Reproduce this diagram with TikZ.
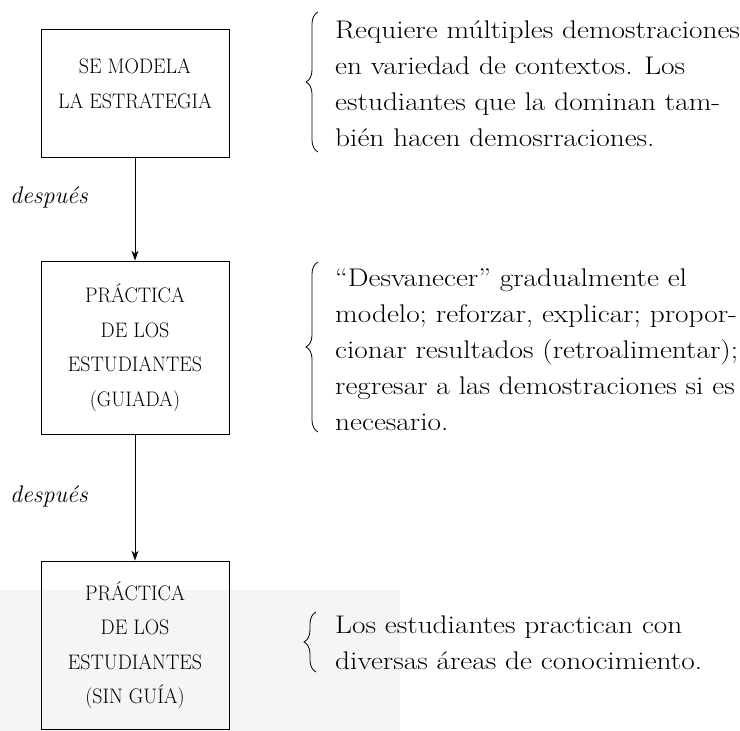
\documentclass[tikz,border=0pt]{standalone}
\usepackage{fontspec}
\newfontfamily\notefont[FakeStretch=1.15]{Latin Modern Roman}
\newfontfamily\boxfont[FakeStretch=0.95]{Latin Modern Roman}
\usetikzlibrary{arrows.meta,decorations.pathreplacing}
\tikzset{
  stepbox/.style={draw, line width=0.8bp, minimum width=188bp, inner sep=0pt, align=center,
    font=\fontsize{21bp}{34.5bp}\selectfont\boxfont},
  steptext/.style={inner sep=0pt, align=center, font=\fontsize{21bp}{35bp}\selectfont\boxfont},
  note/.style={anchor=north west, align=left, inner sep=0pt,
    font=\fontsize{25.5bp}{36bp}\selectfont\notefont},
  after/.style={font=\fontsize{24bp}{26bp}\selectfont\itshape, anchor=west, inner sep=0pt},
  flow/.style={-{Stealth[length=10bp,width=7bp]}, line width=0.8bp},
  bracepath/.style={decorate, decoration={brace, amplitude=12bp}, line width=0.8bp}
}
\begin{document}
\begin{tikzpicture}[x=1bp,y=-1bp]
\useasboundingbox (0,0) rectangle (740,731);
\fill[black!4] (0,590) rectangle (400,731);
\node[stepbox, minimum height=128bp] (b1) at (135,93) {};
\node[steptext] (b1t) at (135,84) {SE MODELA\\LA ESTRATEGIA};
\node[stepbox, minimum height=173bp] (b2) at (135,347.5) {PRÁCTICA\\DE LOS\\ESTUDIANTES\\(GUIADA)};
\node[stepbox, minimum height=168bp] (b3) at (135,645) {PRÁCTICA\\DE LOS\\ESTUDIANTES\\(SIN GUÍA)};
\draw[flow] (b1) -- (b2);
\draw[flow] (b2) -- (b3);
\node[after] (d1) at (10,197) {después};
\node[after] (d2) at (10,496) {después};
\node[note] (t1) at (335,21) {Requiere múltiples demostraciones\\en variedad de contextos. Los\\estudiantes que la dominan tam-\\bién hacen demosrraciones.};
\node[note] (t2) at (335,269) {“Desvanecer” gradualmente el\\modelo; reforzar, explicar; propor-\\cionar resultados (retroalimentar);\\regresar a las demostraciones si es\\necesario.};
\node[note] (t3) at (335,616) {Los estudiantes practican con\\diversas áreas de conocimiento.};
\draw[bracepath] (318,152) -- (318,12);
\draw[bracepath] (318,432) -- (318,262);
\draw[bracepath] (316,672) -- (316,612);
\end{tikzpicture}
\end{document}
